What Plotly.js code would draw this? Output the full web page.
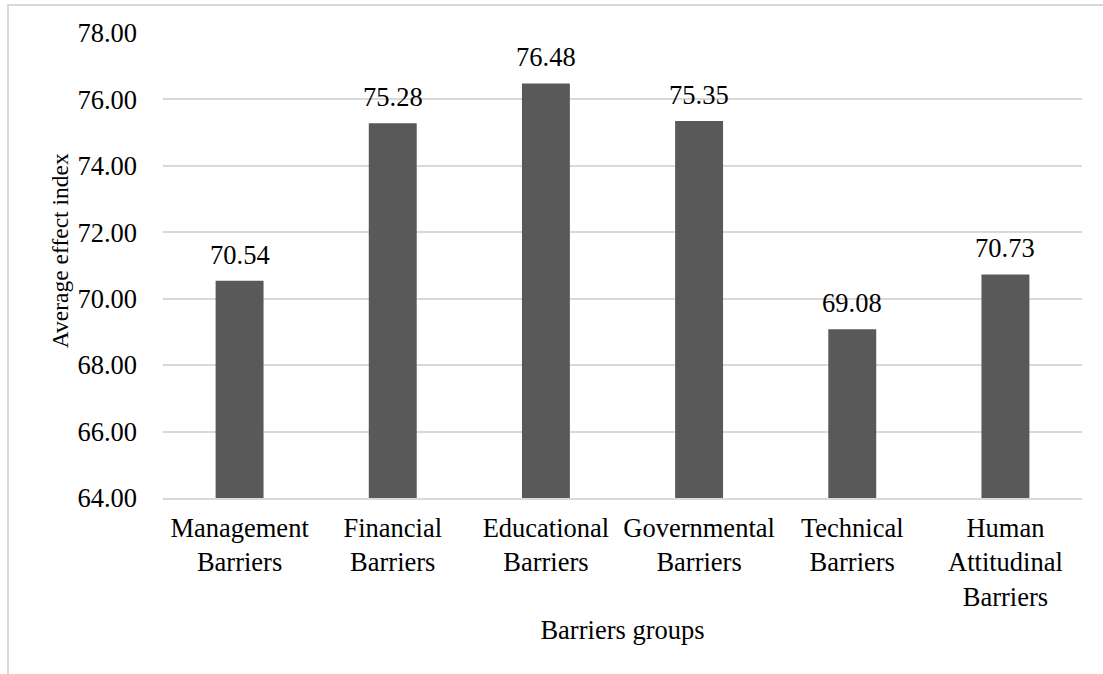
<!DOCTYPE html>
<html>
<head>
<meta charset="utf-8">
<script src="https://cdn.plot.ly/plotly-3.0.1.min.js"></script>
<style>
  html, body { margin: 0; padding: 0; background: #ffffff; }
  #frame { position: absolute; left: 7px; top: 4px; width: 1200px; height: 800px;
           border-top: 2px solid #d9d9d9; border-left: 2px solid #d9d9d9; pointer-events: none; z-index: 5; }
  #chart { position: absolute; left: 0; top: 0; width: 1103px; height: 674px; }
</style>
</head>
<body>
<div id="chart"></div>
<div id="frame"></div>
<script>
const categories = [
  "Management<br>Barriers",
  "Financial<br>Barriers",
  "Educational<br>Barriers",
  "Governmental<br>Barriers",
  "Technical<br>Barriers",
  "Human<br>Attitudinal<br>Barriers"
];
const values = [70.54, 75.28, 76.48, 75.35, 69.08, 70.73];
const yTitle = "Average effect index";
const xTitle = "Barriers groups";

const fontFamily = 'Times New Roman, Liberation Serif, DejaVu Serif, serif';
const fs = 26.5;

const trace = {
  type: 'bar',
  x: categories,
  y: values,
  marker: { color: '#595959' },
  hoverinfo: 'x+y'
};

const annotations = categories.map((c, i) => ({
  x: c,
  y: values[i],
  xref: 'x',
  yref: 'y',
  text: values[i].toFixed(2),
  showarrow: false,
  yanchor: 'bottom',
  yshift: 9,
  font: { family: fontFamily, size: fs, color: '#000000' }
}));

// y-axis title placed as a rotated annotation (slightly above centre, as in the reference)
annotations.push({
  xref: 'paper',
  yref: 'paper',
  x: -0.112,
  y: 0.531,
  xanchor: 'center',
  yanchor: 'middle',
  textangle: -90,
  text: yTitle,
  showarrow: false,
  font: { family: fontFamily, size: 23.5, color: '#000000' }
});

const layout = {
  width: 1103,
  height: 674,
  margin: { l: 163, r: 21, t: 33, b: 176 },
  paper_bgcolor: '#ffffff',
  plot_bgcolor: '#ffffff',
  showlegend: false,
  bargap: 0.687,
  font: { family: fontFamily, size: fs, color: '#000000' },
  annotations: annotations,
  xaxis: {
    type: 'category',
    showgrid: false,
    showline: true,
    linecolor: '#d9d9d9',
    linewidth: 2,
    ticks: '',
    ticklabelstandoff: 5,
    tickfont: { family: fontFamily, size: fs, color: '#000000' },
    title: { text: xTitle, font: { family: fontFamily, size: fs, color: '#000000' }, standoff: 10 },
    automargin: false
  },
  yaxis: {
    range: [64, 78],
    dtick: 2,
    tick0: 64,
    tickformat: '.2f',
    showgrid: true,
    gridcolor: '#d9d9d9',
    gridwidth: 2,
    zeroline: false,
    showline: false,
    ticks: '',
    ticklabelstandoff: 25,
    tickfont: { family: fontFamily, size: fs, color: '#000000' },
    automargin: false
  }
};

Plotly.newPlot('chart', [trace], layout, { displayModeBar: false, staticPlot: true });
</script>
</body>
</html>
